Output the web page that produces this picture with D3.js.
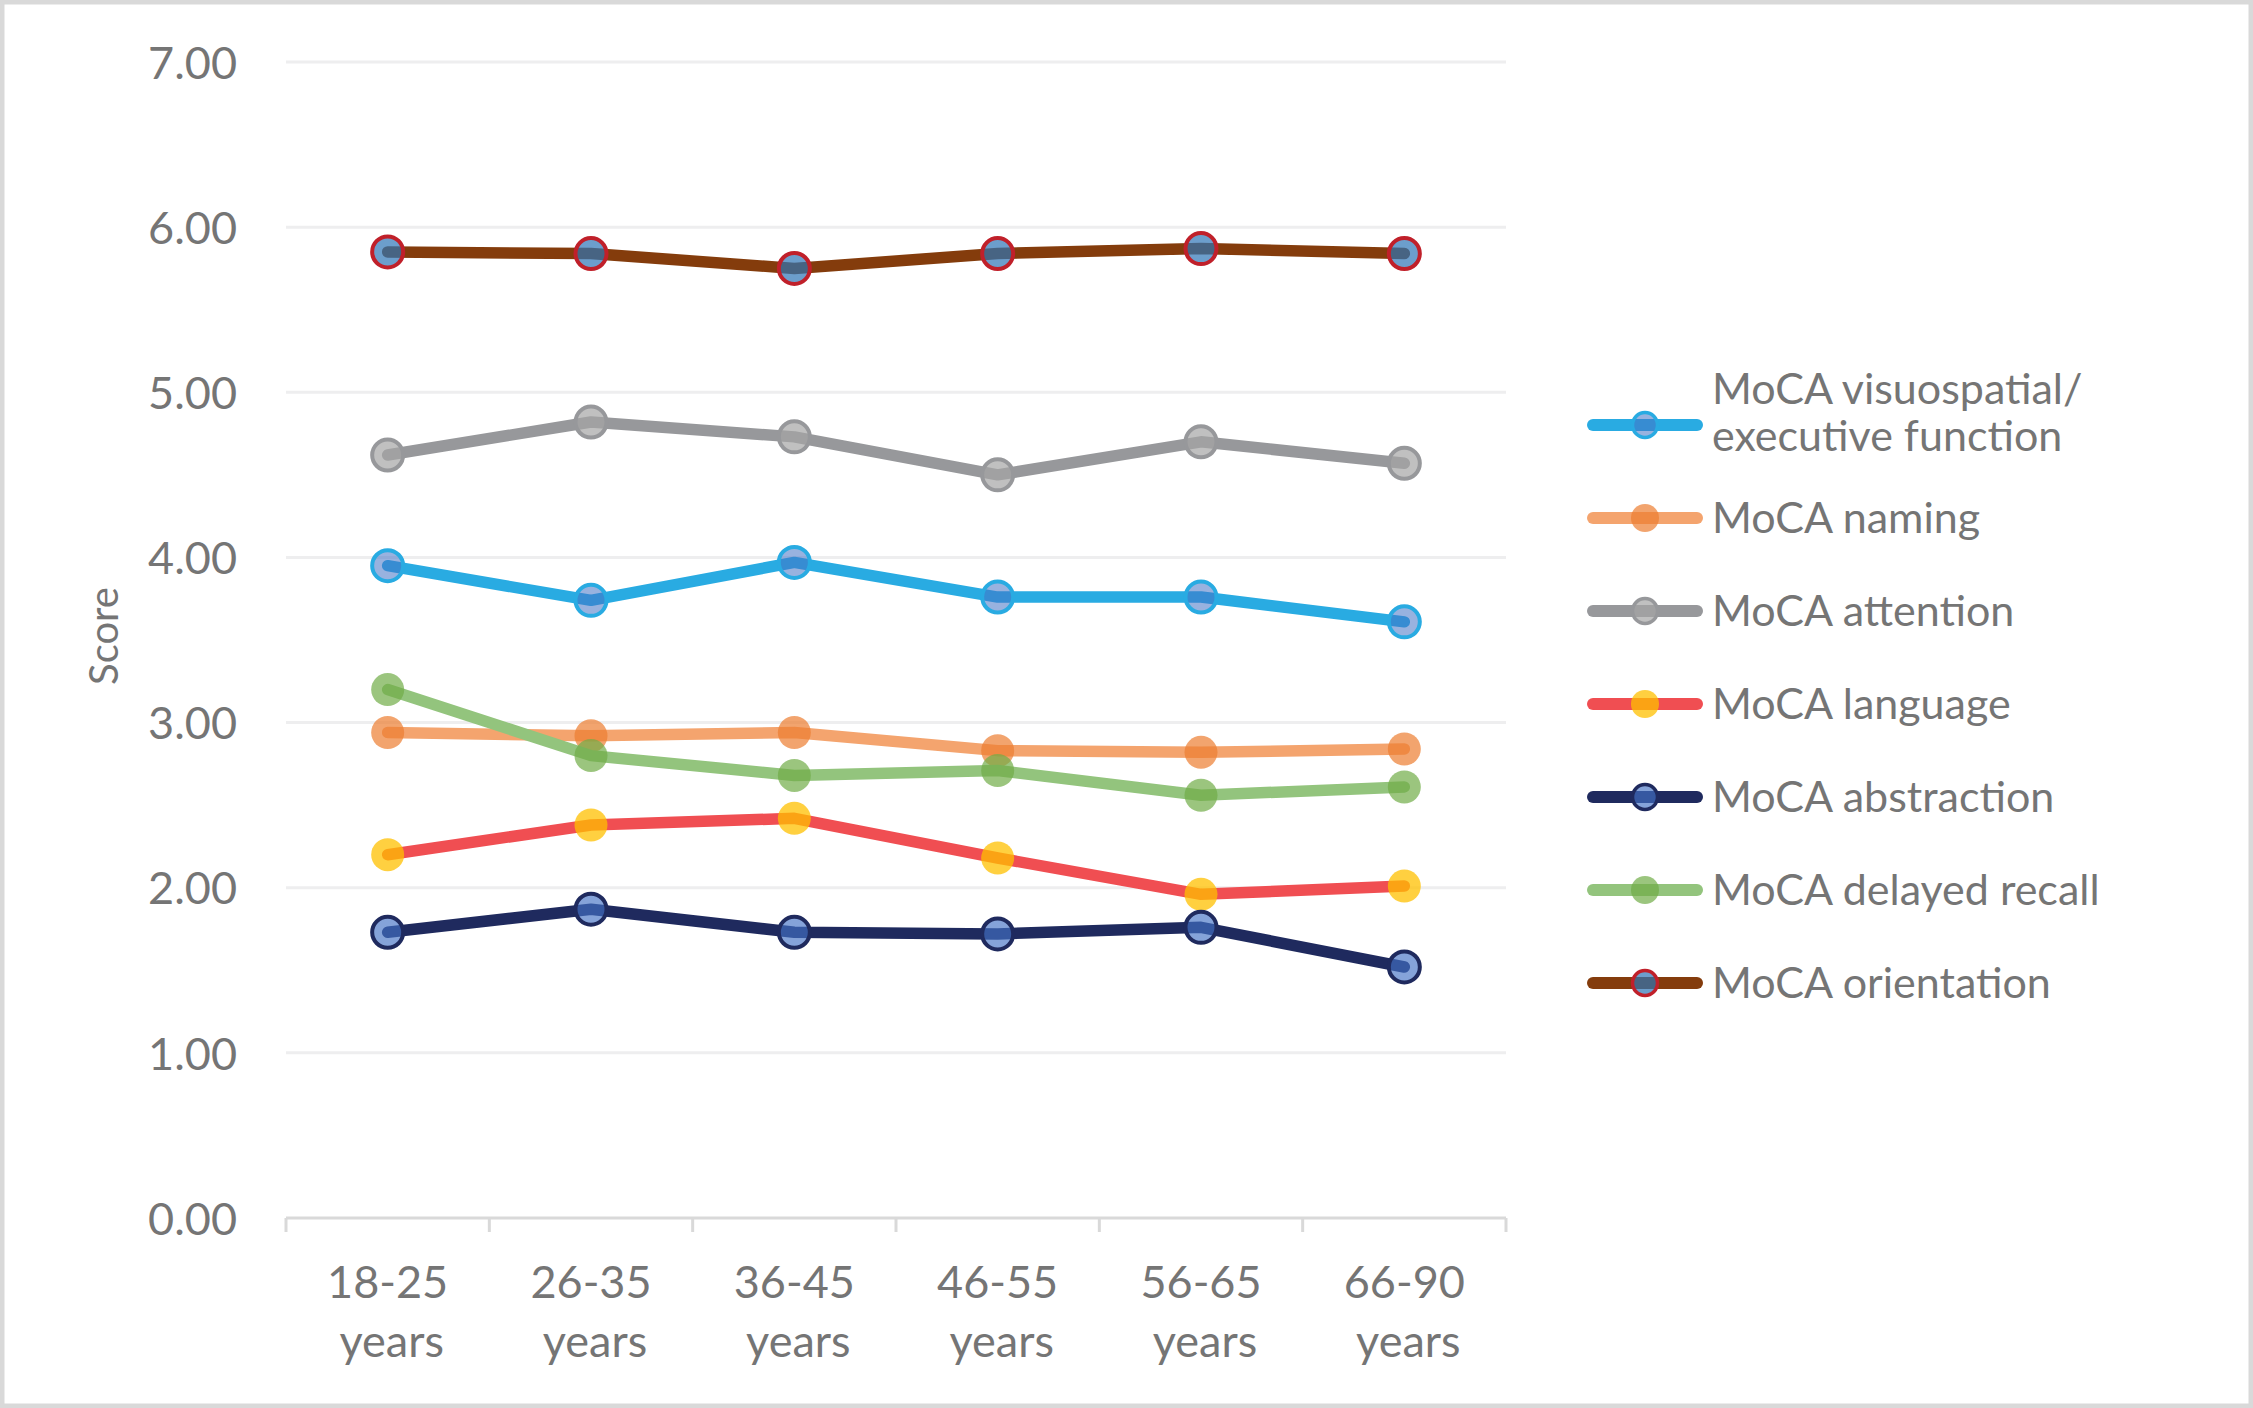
<!DOCTYPE html>
<html>
<head>
<meta charset="utf-8">
<script src="https://cdn.jsdelivr.net/npm/d3@7"></script>
<style>
  html, body { margin: 0; padding: 0; background: #ffffff; }
  svg { display: block; }
  text { font-family: Lato, "Open Sans", "Noto Sans", sans-serif; fill: #757575; }
</style>
</head>
<body>
<svg id="chart" width="2253" height="1408"></svg>
<script>
// ---------- data ----------
const categories = ["18-25 years", "26-35 years", "36-45 years", "46-55 years", "56-65 years", "66-90 years"];
const seriesNames = [
  "MoCA visuospatial/ executive function",
  "MoCA naming",
  "MoCA attention",
  "MoCA language",
  "MoCA abstraction",
  "MoCA delayed recall",
  "MoCA orientation"
];
const visuospatial = [3.95, 3.74, 3.97, 3.76, 3.76, 3.61];
const naming       = [2.94, 2.92, 2.94, 2.83, 2.82, 2.84];
const attention    = [4.62, 4.82, 4.73, 4.50, 4.70, 4.57];
const language     = [2.20, 2.38, 2.42, 2.18, 1.96, 2.01];
const abstraction  = [1.73, 1.87, 1.73, 1.72, 1.76, 1.52];
const delayed      = [3.20, 2.80, 2.68, 2.71, 2.56, 2.61];
const orientation  = [5.85, 5.84, 5.75, 5.84, 5.87, 5.84];
const yTicks = [0, 1, 2, 3, 4, 5, 6, 7];
const yTitle = "Score";

const seriesValues = [visuospatial, naming, attention, language, abstraction, delayed, orientation];

// ---------- styles ----------
const styles = [
  { line: "#29abe2", fill: "#4472c4", fillOpacity: 0.55, stroke: "#29abe2" },
  { line: "#f4a46e", fill: "#ed7d31", fillOpacity: 0.7,  stroke: null },
  { line: "#97989b", fill: "#a5a5a5", fillOpacity: 0.7,  stroke: "#97989b" },
  { line: "#f04e52", fill: "#ffc000", fillOpacity: 0.75, stroke: null },
  { line: "#1f2a5e", fill: "#4472c4", fillOpacity: 0.65, stroke: "#1f2a5e" },
  { line: "#93c47d", fill: "#70ad47", fillOpacity: 0.7,  stroke: null },
  { line: "#843c0c", fill: "#2e75b6", fillOpacity: 0.7,  stroke: "#c0202a" }
];

// ---------- layout ----------
const W = 2253, H = 1408;
const plot = { left: 286, right: 1506, top: 62, bottom: 1218 };

const svg = d3.select("#chart");

// frame
svg.append("rect")
  .attr("x", 2).attr("y", 2).attr("width", W - 4).attr("height", H - 4)
  .attr("fill", "#ffffff").attr("stroke", "#d9d9d9").attr("stroke-width", 5);

const x = d3.scaleBand().domain(categories).range([plot.left, plot.right]).padding(0);
const y = d3.scaleLinear().domain([0, 7]).range([plot.bottom, plot.top]);

// gridlines
svg.append("g").selectAll("line").data(yTicks.filter(d => d > 0)).join("line")
  .attr("x1", plot.left).attr("x2", plot.right)
  .attr("y1", d => y(d)).attr("y2", d => y(d))
  .attr("stroke", "#eeeeef").attr("stroke-width", 3);

// y axis labels
const yAxis = d3.axisLeft(y).tickValues(yTicks).tickFormat(d3.format(".2f")).tickSize(0).tickPadding(49);
const gy = svg.append("g").attr("transform", `translate(${plot.left},0)`).call(yAxis);
gy.select(".domain").remove();
gy.selectAll("text")
  .attr("fill", "#757575")
  .style("font-family", "Lato, sans-serif")
  .style("font-size", "45px")
  .attr("dy", "0.36em");

// x axis line + boundary ticks
const xAxisG = svg.append("g");
xAxisG.append("line")
  .attr("x1", plot.left).attr("x2", plot.right)
  .attr("y1", y(0)).attr("y2", y(0))
  .attr("stroke", "#d9d9d9").attr("stroke-width", 3);
const bounds = categories.map(c => x(c)).concat([x(categories[categories.length - 1]) + x.bandwidth()]);
xAxisG.selectAll("line.tick").data(bounds).join("line")
  .attr("class", "tick")
  .attr("x1", d => d).attr("x2", d => d)
  .attr("y1", y(0)).attr("y2", y(0) + 14)
  .attr("stroke", "#d9d9d9").attr("stroke-width", 3);

// x labels via axis
const xAxis = d3.axisBottom(x).tickSize(0).tickPadding(0);
const gx = svg.append("g").attr("transform", `translate(0,${plot.bottom})`).call(xAxis);
gx.select(".domain").remove();
gx.selectAll(".tick text").each(function(d) {
  const t = d3.select(this);
  const parts = d.split(" ");
  t.text(null).attr("y", 0).attr("dy", null)
    .attr("fill", "#757575")
    .style("font-family", "Lato, sans-serif")
    .style("font-size", "45px");
  t.append("tspan").attr("x", 0).attr("y", 80).text(parts[0]);
  t.append("tspan").attr("x", 4).attr("y", 139).text(parts[1]);
});

// y title
svg.append("text")
  .attr("transform", `translate(103,636) rotate(-90)`)
  .attr("text-anchor", "middle")
  .attr("dominant-baseline", "central")
  .style("font-size", "40px")
  .text(yTitle);

// series
const lineGen = d3.line()
  .x((d, i) => x(categories[i]) + x.bandwidth() / 2)
  .y(d => y(d));

const seriesG = svg.append("g");
seriesValues.forEach((vals, si) => {
  const st = styles[si];
  const g = seriesG.append("g");
  g.append("path")
    .datum(vals)
    .attr("d", lineGen)
    .attr("fill", "none")
    .attr("stroke", st.line)
    .attr("stroke-width", 11.5)
    .attr("stroke-linejoin", "round")
    .attr("stroke-linecap", "round");
  g.selectAll("circle").data(vals).join("circle")
    .attr("cx", (d, i) => x(categories[i]) + x.bandwidth() / 2)
    .attr("cy", d => y(d))
    .attr("r", st.stroke ? 15.5 : 16.5)
    .attr("fill", st.fill)
    .attr("fill-opacity", st.fillOpacity)
    .attr("stroke", st.stroke || "none")
    .attr("stroke-width", st.stroke ? 4 : 0);
});

// legend
const legend = { lineX1: 1593, lineX2: 1697, markerX: 1645, textX: 1712, firstY: 425, step: 93 };
const lg = svg.append("g");
seriesNames.forEach((name, i) => {
  const st = styles[i];
  const cy = legend.firstY + i * legend.step;
  lg.append("line")
    .attr("x1", legend.lineX1).attr("x2", legend.lineX2)
    .attr("y1", cy).attr("y2", cy)
    .attr("stroke", st.line).attr("stroke-width", 12).attr("stroke-linecap", "round");
  lg.append("circle")
    .attr("cx", legend.markerX).attr("cy", cy)
    .attr("r", st.stroke ? 12.5 : 14)
    .attr("fill", st.fill).attr("fill-opacity", st.fillOpacity)
    .attr("stroke", st.stroke || "none").attr("stroke-width", st.stroke ? 3.5 : 0);
  const t = lg.append("text").style("font-size", "43px");
  if (name.indexOf("/ ") >= 0) {
    const parts = name.split("/ ");
    t.append("tspan").attr("x", legend.textX).attr("y", cy - 21).text(parts[0] + "/");
    t.append("tspan").attr("x", legend.textX).attr("y", cy + 26).text(parts[1]);
  } else {
    t.attr("x", legend.textX).attr("y", cy + 15).text(name);
  }
});
</script>
</body>
</html>
